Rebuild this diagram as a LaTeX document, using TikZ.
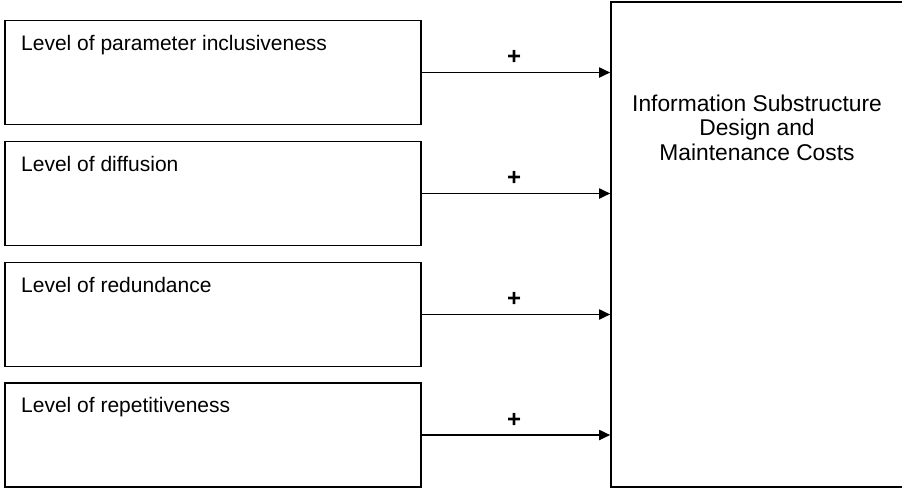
\documentclass[tikz,border=0pt]{standalone}
\usepackage{fontspec}
\setmainfont{Liberation Sans}
\usetikzlibrary{arrows.meta}
\begin{document}
\begin{tikzpicture}[x=1pt,y=-1pt,
  factor/.style={draw, line width=1.4pt, minimum width=416pt, minimum height=104pt, inner sep=0pt},
  factortext/.style={anchor=base west, inner sep=0pt, font=\fontsize{21}{24}\selectfont},
  costbox/.style={draw, line width=1.6pt, minimum width=294pt, minimum height=485pt, inner sep=0pt},
  costtext/.style={align=center, inner sep=0pt, font=\fontsize{22.8}{24.5}\selectfont},
  link/.style={line width=1.8pt, -{Triangle[length=11pt,width=10pt]}},
  sign/.style={font=\fontsize{24}{24}\selectfont\bfseries, inner sep=0pt}]
\useasboundingbox (0,0) rectangle (902,488);
\fill[white] (0,0) rectangle (902,488);

% right-hand outcome box
\node[costbox] (cost) at (758,244.5) {};
\node[costtext, anchor=base] (costlbl) at (757,160) {Information Substructure\\Design and\\Maintenance Costs};

% left-hand factor boxes
\node[factor] (f1) at (213,72.5) {};
\node[factor] (f2) at (213,193.5) {};
\node[factor] (f3) at (213,314.5) {};
\node[factor] (f4) at (213,435) {};

\node[factortext] (t1) at (21,50) {Level of parameter inclusiveness};
\node[factortext] (t2) at (21,171) {Level of diffusion};
\node[factortext] (t3) at (21,292) {Level of redundance};
\node[factortext] (t4) at (21,412) {Level of repetitiveness};

% positive influences
\foreach \i in {1,2,3,4}{
  \draw[link] (f\i.east) -- (cost.west |- f\i.east)
    node[sign, pos=0.49, above=7pt] (p\i) {+};
}
\end{tikzpicture}
\end{document}
